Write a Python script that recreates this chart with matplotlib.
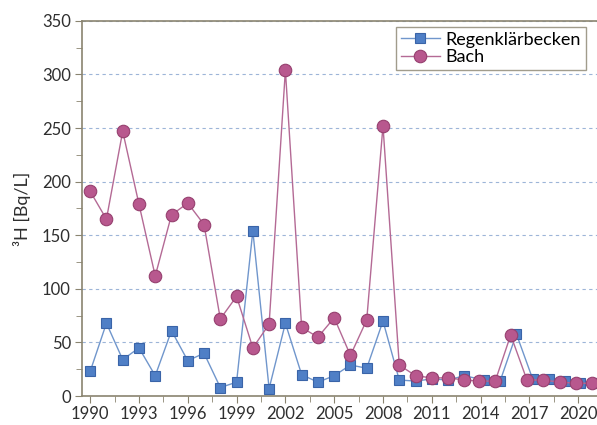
import matplotlib.pyplot as plt
from matplotlib.ticker import MultipleLocator
import numpy as np

plt.rcParams['font.family'] = ['Lato', 'DejaVu Sans']

# Regenklärbecken (squares)
years_rkb = [1990, 1991, 1992, 1993, 1994, 1995, 1996, 1997, 1998, 1999, 2000,
             2001, 2002, 2003, 2004, 2005, 2006, 2007, 2008, 2009, 2010,
             2011, 2012, 2013, 2014.2, 2015.2, 2016.2, 2017.2, 2018.2, 2019.2,
             2020.1, 2021.2]
rkb = [23, 68, 34, 45, 19, 61, 33, 40, 8, 13, 154,
       7, 68, 20, 13, 19, 29, 26, 70, 15, 14,
       16, 15, 19, 15, 14, 58, 16, 16, 14,
       12, 12]

# Bach (circles)
years_bach = [1990, 1991, 1992, 1993, 1994, 1995, 1996, 1997, 1998, 1999, 2000,
              2001, 2002, 2003, 2004, 2005, 2006, 2007, 2008, 2009, 2010,
              2011, 2012, 2013, 2013.9, 2014.9, 2015.85, 2016.85, 2017.85, 2018.9,
              2019.85, 2020.85]
bach = [191, 165, 247, 179, 112, 169, 180, 160, 72, 93, 45,
        67, 304, 64, 55, 73, 38, 71, 252, 29, 19,
        17, 17, 15, 14, 14, 57, 15, 15, 13,
        12, 12]

year_ticks = [1990, 1993, 1996, 1999, 2002, 2005, 2008, 2011, 2014, 2017, 2020]

fig = plt.figure(figsize=(5.97, 4.25), dpi=100)
ax = fig.add_axes([0.1374, 0.068, 0.872, 0.883])

ax.plot(years_rkb, rkb, '-', color='#7096CC', lw=1.0, marker='s', ms=7.5,
        mfc='#4F7FC6', mec='#3A64A8', mew=0.8, label='Regenklärbecken', zorder=3)
ax.plot(years_bach, bach, '-', color='#B46A95', lw=1.0, marker='o', ms=9,
        mfc='#B8588E', mec='#96406F', mew=0.8, label='Bach', zorder=4)

ax.set_xlim(1989.5, 2021.5)
ax.set_ylim(0, 350)
ax.set_xticks(year_ticks)
ax.set_xticks(np.array(year_ticks) + 1.5, minor=True)
ax.yaxis.set_major_locator(MultipleLocator(50))
ax.yaxis.set_minor_locator(MultipleLocator(25))
ax.tick_params(axis='both', which='both', direction='out', length=5,
               color='#8A8470', labelsize=12, labelcolor='#2E2E2E')
ax.tick_params(axis='both', which='minor', length=4)
ax.tick_params(axis='x', pad=2)
ax.tick_params(axis='y', pad=3)

ax.grid(True, axis='y', which='major', linestyle=(0, (3, 3)),
        color='#9DB5D8', lw=0.8)
ax.set_axisbelow(True)

for side in ['left', 'bottom', 'top']:
    ax.spines[side].set_color('#8A8470')
    ax.spines[side].set_linewidth(1.2)
ax.spines['right'].set_visible(False)

ax.set_ylabel('³H [Bq/L]', fontsize=13, color='#2E2E2E', labelpad=8)

leg = ax.legend(loc='upper left', bbox_to_anchor=(396 / 597, 1 - 27 / 425),
                bbox_transform=fig.transFigure, fontsize=13, frameon=True,
                fancybox=False, borderpad=0.25, labelspacing=0.1,
                handlelength=2.2, handletextpad=0.3, borderaxespad=0)
leg.get_frame().set_edgecolor('#8A8470')
leg.get_frame().set_linewidth(1.0)

fig.savefig('out.png', dpi=100)
